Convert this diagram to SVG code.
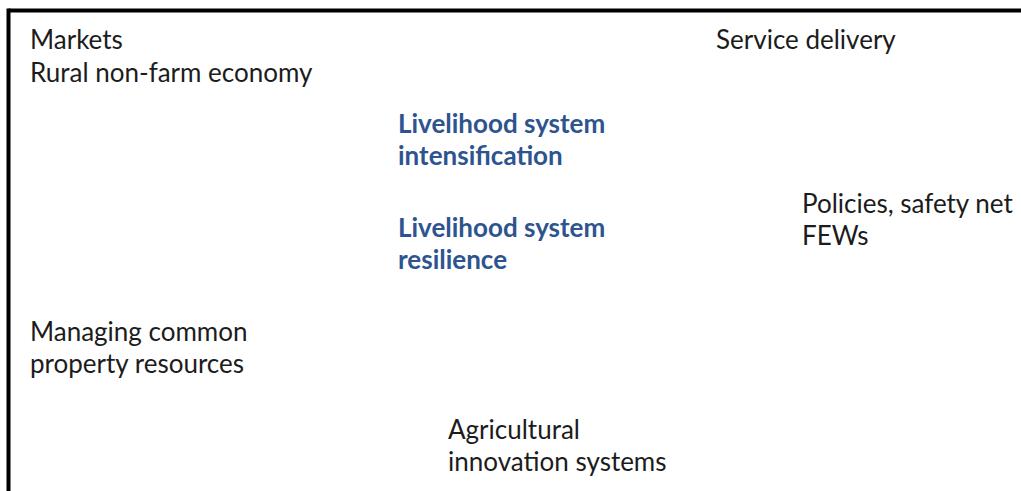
<svg xmlns="http://www.w3.org/2000/svg" width="1021" height="491" viewBox="0 0 1021 491">
<style>
.t{font-family:Lato,"Liberation Sans",sans-serif;font-size:26px;fill:#1c1c1c}
.b{font-family:Lato,"Liberation Sans",sans-serif;font-size:26px;font-weight:bold;fill:#2e5490}
</style>
<rect width="1021" height="491" fill="#fff"/>
<g id="frame">
<line x1="8.5" y1="10.5" x2="1021" y2="10.5" stroke="#000" stroke-width="4"/>
<line x1="8.5" y1="8.5" x2="8.5" y2="491" stroke="#000" stroke-width="4"/>
</g>
<g id="markets"><text class="t" x="30" y="49">Markets</text><text class="t" x="30" y="82">Rural non-farm economy</text></g>
<g id="service"><text class="t" x="716" y="49">Service delivery</text></g>
<g id="intensification"><text class="b" x="398" y="133">Livelihood system</text><text class="b" x="398" y="165">intensification</text></g>
<g id="resilience"><text class="b" x="398" y="237">Livelihood system</text><text class="b" x="398" y="269">resilience</text></g>
<g id="policies"><text class="t" x="802" y="213">Policies, safety net</text><text class="t" x="802" y="245">FEWs</text></g>
<g id="managing"><text class="t" x="30" y="341">Managing common</text><text class="t" x="30" y="373">property resources</text></g>
<g id="agri"><text class="t" x="448" y="439">Agricultural</text><text class="t" x="448" y="471">innovation systems</text></g>
<g id="connectors"/>
</svg>
